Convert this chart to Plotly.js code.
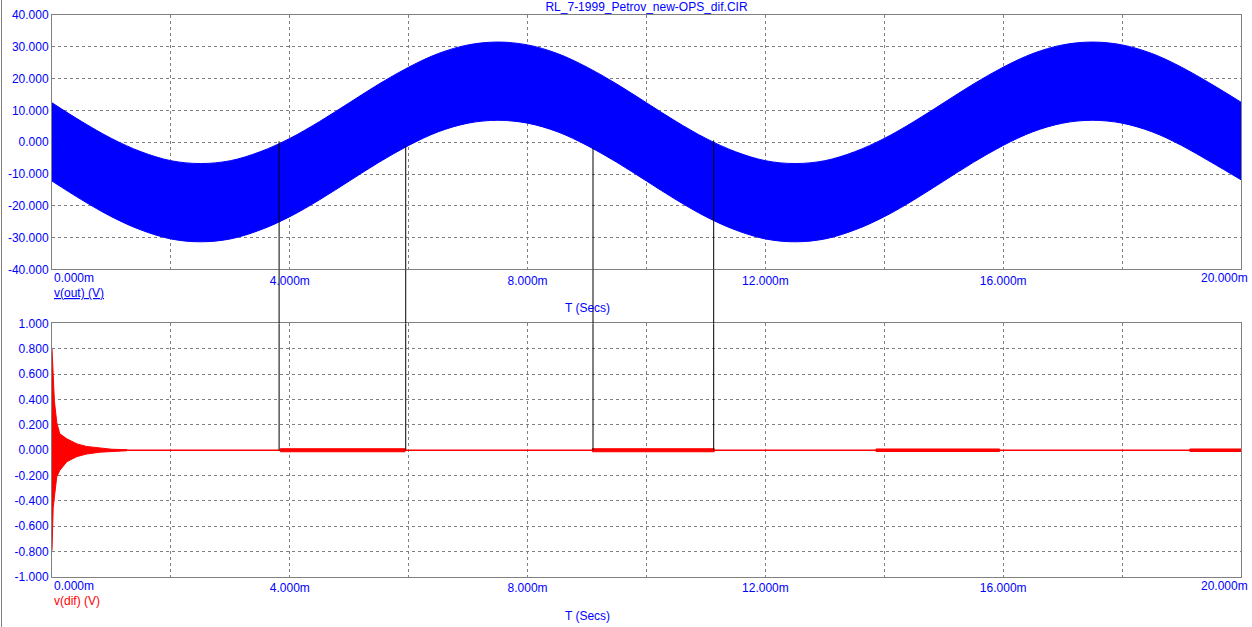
<!DOCTYPE html>
<html>
<head>
<meta charset="utf-8">
<script src="https://cdn.plot.ly/plotly-3.0.1.min.js"></script>
<style>
html,body{margin:0;padding:0;background:#fff;}
#wrap{position:relative;width:1252px;height:627px;overflow:hidden;}
#chart{width:1252px;height:627px;}
#lb{position:absolute;left:1px;top:0;width:1px;height:627px;background:#808080;}
</style>
</head>
<body>
<div id="wrap"><div id="chart"></div><div id="lb"></div></div>
<script>
// ---- data ----
const chartTitle = 'RL_7-1999_Petrov_new-OPS_dif.CIR';
// time axis (ms)
const xTickVals = [0,2,4,6,8,10,12,14,16,18,20];
const xTickText = ['0.000m','','4.000m','','8.000m','','12.000m','','16.000m','','20.000m'];
// top panel v(out) envelope of the dense oscillation
const blueT = [0,0.5,1,1.5,2,2.5,3,3.5,4,4.5,5,5.5,6,6.5,7,7.5,8,8.5,9,9.5,10,
               10.5,11,11.5,12,12.5,13,13.5,14,14.5,15,15.5,16,16.5,17,17.5,18,18.5,19,19.5,20];
const blueUpper = [12.4,6.5,1.2,-3.0,-5.8,-6.7,-5.8,-3.0,1.2,6.5,12.4,18.3,23.6,27.9,30.6,31.5,30.6,27.9,23.6,18.3,12.4,
                   6.5,1.2,-3.0,-5.8,-6.7,-5.8,-3.0,1.2,6.5,12.4,18.3,23.6,27.9,30.6,31.5,30.6,27.9,23.6,18.3,12.6];
const blueLower = [-12.2,-18.1,-23.4,-27.6,-30.4,-31.3,-30.4,-27.6,-23.4,-18.1,-12.2,-6.3,-1.0,3.3,6.0,6.9,6.0,3.3,-1.0,-6.3,-12.2,
                   -18.1,-23.4,-27.6,-30.4,-31.3,-30.4,-27.6,-23.4,-18.1,-12.2,-6.3,-1.0,3.3,6.0,6.9,6.0,3.3,-1.0,-6.3,-11.8];
const yTopTicks = [-40,-30,-20,-10,0,10,20,30,40];
const yTopText = ['-40.000','-30.000','-20.000','-10.000','0.000','10.000','20.000','30.000','40.000'];
// bottom panel v(dif): start-up transient envelope
const difT = [0,0.005,0.01,0.02,0.04,0.08,0.13,0.25,0.42,0.58,0.81,1.0,1.26];
const difUpper = [0.80,0.74,0.66,0.55,0.39,0.22,0.13,0.09,0.05,0.03,0.015,0.008,0.004];
const difLower = [-0.79,-0.66,-0.52,-0.45,-0.37,-0.21,-0.16,-0.09,-0.05,-0.03,-0.015,-0.008,-0.004];
// small ripple segments on v(dif)
const difSegStart = [3.84,9.09,13.86,19.14];
const difSegEnd = [5.94,11.14,15.94,20.0];
const difSegAmp = [0.012,0.012,0.010,0.010];
const yBotTicks = [-1,-0.8,-0.6,-0.4,-0.2,0,0.2,0.4,0.6,0.8,1];
const yBotText = ['-1.000','-0.800','-0.600','-0.400','-0.200','0.000','0.200','0.400','0.600','0.800','1.000'];
// black connecting lines (time ms, top-panel start value)
const blackT = [3.82,5.95,9.10,11.13];
const blackTop = [0.3,-1.1,-1.8,0.6];

// ---- layout constants ----
const topDom = [0.5472,1];
const botDom = [0,0.4511];
const FONT = 'Liberation Sans, Arial, sans-serif';
const BLUE = '#0000ff';
const RED = '#ff0000';
const GRID = '#808080';

const traces = [];
traces.push({x:blueT,y:blueLower,xaxis:'x',yaxis:'y',mode:'lines',line:{color:BLUE,width:1,shape:'spline'},hoverinfo:'skip'});
traces.push({x:blueT,y:blueUpper,xaxis:'x',yaxis:'y',mode:'lines',fill:'tonexty',fillcolor:BLUE,line:{color:BLUE,width:1,shape:'spline'},hoverinfo:'skip'});

// bottom baseline
traces.push({x:[xTickVals[0],xTickVals[xTickVals.length-1]],y:[0,0],xaxis:'x2',yaxis:'y2',mode:'lines',line:{color:RED,width:1.5},hoverinfo:'skip'});
traces.push({x:difT,y:difLower,xaxis:'x2',yaxis:'y2',mode:'lines',line:{color:RED,width:1},hoverinfo:'skip'});
traces.push({x:difT,y:difUpper,xaxis:'x2',yaxis:'y2',mode:'lines',fill:'tonexty',fillcolor:RED,line:{color:RED,width:1},hoverinfo:'skip'});
for(let i=0;i<difSegStart.length;i++){
  const s=difSegStart[i],e=difSegEnd[i],a=difSegAmp[i];
  traces.push({x:[s,e,e,s,s],y:[a,a,-a,-a,a],xaxis:'x2',yaxis:'y2',mode:'lines',fill:'toself',fillcolor:RED,line:{color:RED,width:1},hoverinfo:'skip'});
}
// black lines
const shapes=[];
for(let i=0;i<blackT.length;i++){
  traces.push({x:[blackT[i],blackT[i]],y:[blackTop[i],yTopTicks[0]],xaxis:'x',yaxis:'y',mode:'lines',line:{color:'#000',width:1},hoverinfo:'skip'});
  traces.push({x:[blackT[i],blackT[i]],y:[yBotTicks[yBotTicks.length-1],0],xaxis:'x2',yaxis:'y2',mode:'lines',line:{color:'#000',width:1},hoverinfo:'skip'});
  shapes.push({type:'line',xref:'x',yref:'paper',x0:blackT[i],x1:blackT[i],y0:botDom[1],y1:topDom[0],line:{color:'#000',width:1},layer:'above'});
}

const lastI = xTickVals.length-1;
function xAxis(anchor){
  return {domain:[0,1],range:[xTickVals[0],xTickVals[lastI]],anchor:anchor,
    tickmode:'array',tickvals:xTickVals,ticktext:xTickText.map((t,i)=>(i===0||i===lastI)?'':t),
    showgrid:true,gridcolor:GRID,griddash:'3px,3px',gridwidth:1,zeroline:false,
    showline:true,mirror:true,linecolor:GRID,linewidth:1,ticks:'',
    tickfont:{family:FONT,size:12,color:BLUE},fixedrange:true};
}
function yAxis(anchor,dom,ticks,text){
  return {domain:dom,range:[ticks[0],ticks[ticks.length-1]],anchor:anchor,
    tickmode:'array',tickvals:ticks,ticktext:text,
    showgrid:true,gridcolor:GRID,griddash:'3px,3px',gridwidth:1,zeroline:false,
    showline:true,mirror:true,linecolor:GRID,linewidth:1,ticks:'',
    tickfont:{family:FONT,size:12,color:BLUE},fixedrange:true};
}

const plotH = 562; // 627-15-50
const tf = {family:FONT,size:12,color:BLUE};
const layout = {
  width:1252,height:627,
  margin:{l:52,r:11,t:15,b:50},
  paper_bgcolor:'#fff',plot_bgcolor:'#fff',
  showlegend:false,
  font:{family:FONT,size:12,color:BLUE},
  title:{text:chartTitle,font:tf,xref:'paper',x:0.5,xanchor:'center',yref:'container',y:1-7/627,yanchor:'middle'},
  xaxis:xAxis('y'),
  yaxis:yAxis('x',topDom,yTopTicks,yTopText),
  xaxis2:xAxis('y2'),
  yaxis2:yAxis('x2',botDom,yBotTicks,yBotText),
  shapes:shapes,
  annotations:[
    {text:xTickText[0],xref:'x',x:xTickVals[0],xanchor:'left',yref:'paper',y:(577-277.7)/plotH,yanchor:'middle',showarrow:false,font:tf},
    {text:xTickText[0],xref:'x2',x:xTickVals[0],xanchor:'left',yref:'paper',y:(577-585.7)/plotH,yanchor:'middle',showarrow:false,font:tf},
    {text:xTickText[lastI],xref:'x',x:xTickVals[lastI],xanchor:'right',xshift:9,yref:'paper',y:(577-277.7)/plotH,yanchor:'middle',showarrow:false,font:tf},
    {text:xTickText[lastI],xref:'x2',x:xTickVals[lastI],xanchor:'right',xshift:9,yref:'paper',y:(577-585.7)/plotH,yanchor:'middle',showarrow:false,font:tf},
    {text:'<u>v(out) (V)</u>',xref:'paper',x:0,xanchor:'left',yref:'paper',y:(577-293)/plotH,yanchor:'middle',showarrow:false,font:tf},
    {text:'T (Secs)',xref:'paper',x:(587-52)/1189,xanchor:'center',yref:'paper',y:(577-307.5)/plotH,yanchor:'middle',showarrow:false,font:tf},
    {text:'v(dif) (V)',xref:'paper',x:0,xanchor:'left',yref:'paper',y:(577-601)/plotH,yanchor:'middle',showarrow:false,font:{family:FONT,size:12,color:RED}},
    {text:'T (Secs)',xref:'paper',x:(587-52)/1189,xanchor:'center',yref:'paper',y:(577-615.5)/plotH,yanchor:'middle',showarrow:false,font:tf}
  ],
  hovermode:false
};
Plotly.newPlot('chart',traces,layout,{displayModeBar:false,staticPlot:true});
</script>
</body>
</html>
